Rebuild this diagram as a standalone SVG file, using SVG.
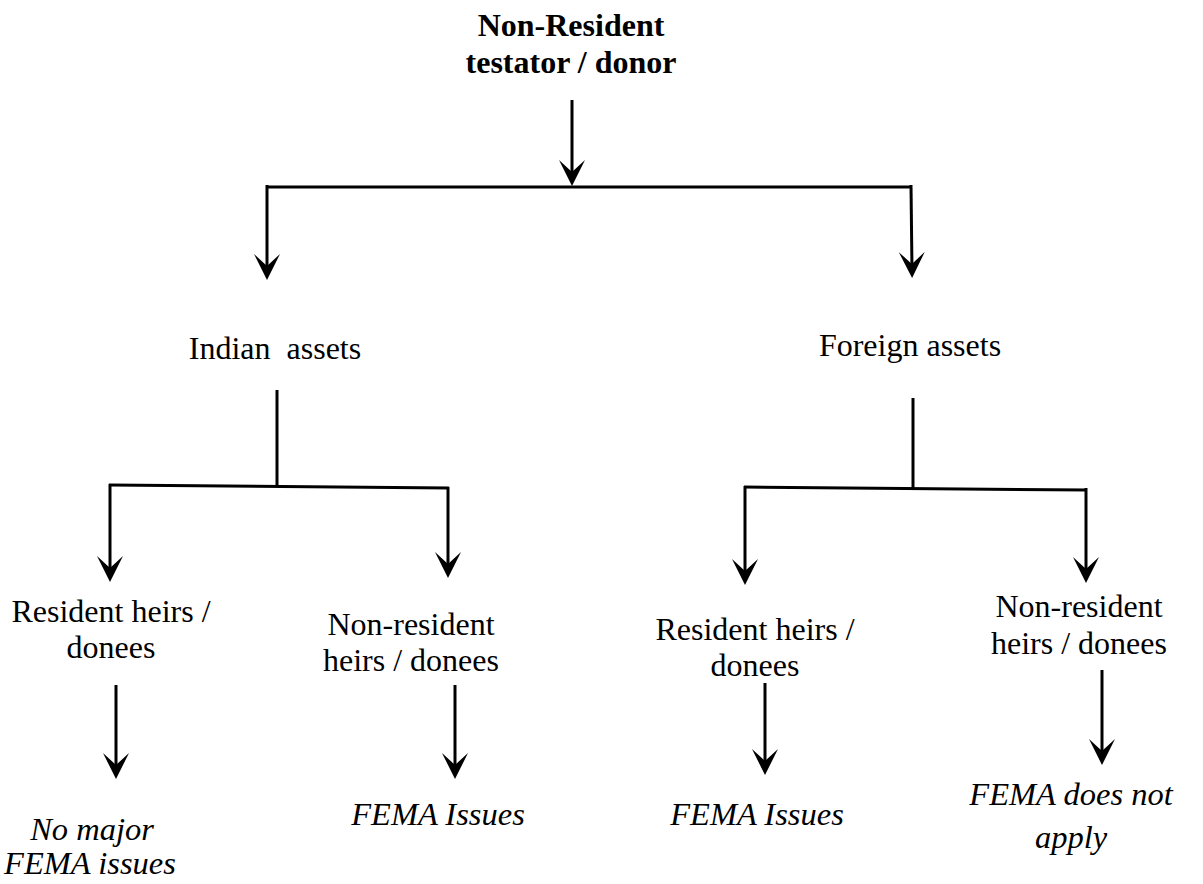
<svg xmlns="http://www.w3.org/2000/svg" width="1203" height="884" viewBox="0 0 1203 884">
<style>
  .t { font-family: "Liberation Serif", "Times New Roman", serif; font-size: 32px; fill: #000; text-anchor: middle; white-space: pre; }
  .b { font-weight: bold; }
  .i { font-style: italic; font-size: 32.5px; }
  .c line { stroke: #000; stroke-width: 3; fill: none; }
</style>
<defs>
  <marker id="ah" markerUnits="userSpaceOnUse" markerWidth="34" markerHeight="30" viewBox="-22 -15 34 30" refX="0" refY="0" orient="auto" overflow="visible">
    <path d="M8,0 L-18,-13 L-6,0 L-18,13 Z" fill="#000"/>
  </marker>
</defs>
<rect width="1203" height="884" fill="#fff"/>

<g id="connectors" class="c">
  <line x1="572" y1="100" x2="572" y2="178" marker-end="url(#ah)"/>
  <line x1="266" y1="187" x2="912" y2="187"/>
  <line x1="267" y1="185" x2="267" y2="272" marker-end="url(#ah)"/>
  <line x1="911" y1="185" x2="912" y2="270" marker-end="url(#ah)"/>

  <line x1="277" y1="390" x2="277" y2="486"/>
  <line x1="109" y1="485" x2="449" y2="488"/>
  <line x1="110" y1="484" x2="110" y2="574" marker-end="url(#ah)"/>
  <line x1="448" y1="487" x2="448" y2="570" marker-end="url(#ah)"/>

  <line x1="913" y1="398" x2="913" y2="488"/>
  <line x1="744" y1="487" x2="1087" y2="490"/>
  <line x1="745" y1="486" x2="745" y2="577" marker-end="url(#ah)"/>
  <line x1="1086" y1="488" x2="1086" y2="575" marker-end="url(#ah)"/>

  <line x1="116" y1="685" x2="116" y2="771" marker-end="url(#ah)"/>
  <line x1="455" y1="685" x2="455" y2="771" marker-end="url(#ah)"/>
  <line x1="765" y1="683" x2="765" y2="767" marker-end="url(#ah)"/>
  <line x1="1102" y1="670" x2="1102" y2="757" marker-end="url(#ah)"/>
</g>

<g id="root">
  <text class="t b" x="571" y="36">Non-Resident</text>
  <text class="t b" x="571" y="73">testator / donor</text>
</g>

<g id="indian-assets">
  <text class="t" x="275" y="359">Indian  assets</text>
</g>
<g id="foreign-assets">
  <text class="t" x="910" y="356">Foreign assets</text>
</g>

<g id="ia-resident">
  <text class="t" x="111" y="622">Resident heirs /</text>
  <text class="t" x="111" y="658">donees</text>
</g>
<g id="ia-nonresident">
  <text class="t" x="411" y="635">Non-resident</text>
  <text class="t" x="411" y="671">heirs / donees</text>
</g>
<g id="fa-resident">
  <text class="t" x="755" y="640">Resident heirs /</text>
  <text class="t" x="755" y="676">donees</text>
</g>
<g id="fa-nonresident">
  <text class="t" x="1079" y="617">Non-resident</text>
  <text class="t" x="1079" y="654">heirs / donees</text>
</g>

<g id="out-1">
  <text class="t i" x="92" y="840">No major</text>
  <text class="t i" x="90" y="874">FEMA issues</text>
</g>
<g id="out-2">
  <text class="t i" x="438" y="825">FEMA Issues</text>
</g>
<g id="out-3">
  <text class="t i" x="757" y="825">FEMA Issues</text>
</g>
<g id="out-4">
  <text class="t i" x="1071" y="805">FEMA does not</text>
  <text class="t i" x="1071" y="848">apply</text>
</g>
</svg>
